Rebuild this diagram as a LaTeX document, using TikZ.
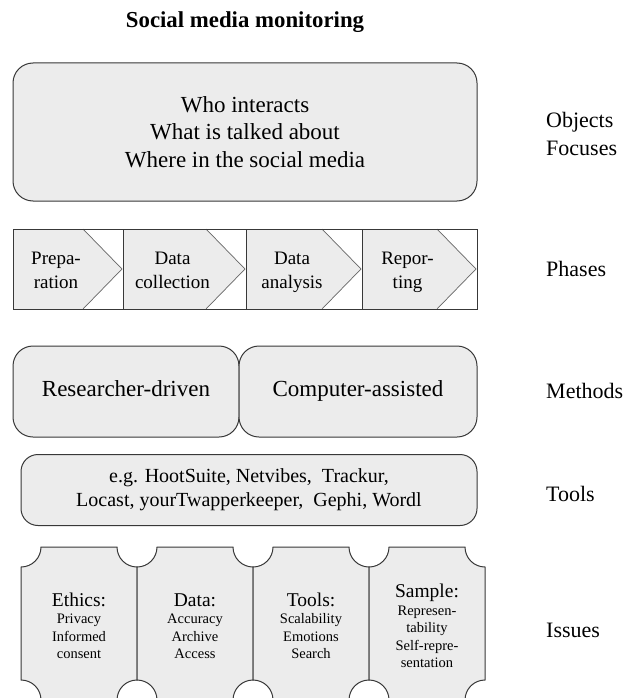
\documentclass[tikz,border=0pt]{standalone}
\usepackage{fontspec}
\setmainfont{Liberation Serif}
\usepackage{tikz}
\usetikzlibrary{positioning}
\definecolor{panelfill}{HTML}{ECECEC}
\definecolor{panelline}{HTML}{383838}

\begin{document}
\begin{tikzpicture}[x=1pt, y=-1pt,
  panel/.style={draw=panelline, fill=panelfill, line width=1pt, rounded corners=20pt},
  lbl/.style={anchor=west, inner sep=0pt, align=left, font=\fontsize{22}{28}\selectfont},
  phasetext/.style={anchor=north, inner sep=0pt, align=center, font=\fontsize{19}{24}\selectfont},
  issuetext/.style={inner sep=0pt, align=center, font=\fontsize{14.5}{17.5}\selectfont}]

\clip (0,0) rectangle (630,698);
\fill[white] (0,0) rectangle (630,698);

\node[inner sep=0pt, font=\bfseries\fontsize{22.8}{26}\selectfont] (title) at (245,22) {Social media monitoring};

% objects and focuses
\node[panel, minimum width=464, minimum height=138, align=center,
      font=\fontsize{23}{27.5}\selectfont] (focus) at (245,132)
{Who interacts\\What is talked about\\Where in the social media};

% phases
\foreach \a/\b/\t [count=\i] in {13/123/{Prepa-\\ration}, 123/246/{Data\\collection},
  246/362/{Data\\analysis}, 362/477/{Repor-\\ting}}
{
\fill[panelfill] (\a,229) -- (\b-40,229) -- (\b-1,269) -- (\b-40,309) -- (\a,309) -- cycle;
\draw[black!60, line width=0.7pt] (\b-40,229) -- (\b-1,269) -- (\b-40,309);
\node[phasetext] (phase\i) at ({(\a+\b)/2-12},252) {\t};
}
\draw[panelline, line width=1pt] (13,229) rectangle (477,309);
\foreach \x in {123,246,362}
\draw[panelline, line width=1pt] (\x,229) -- (\x,309);

% methods
\node[panel, minimum width=226, minimum height=91, text height=15, text depth=5,
      font=\fontsize{23}{27}\selectfont] (researcher) at (126,391.5) {Researcher-driven};
\node[panel, minimum width=238, minimum height=91, text height=15, text depth=5,
      font=\fontsize{23}{27}\selectfont] (computer) at (358,391.5) {Computer-assisted};

% tools
\node[panel, rounded corners=17pt, minimum width=456, minimum height=71, align=center,
      font=\fontsize{20}{24}\selectfont] (toolbox) at (249,490)
{e.g. HootSuite, Netvibes,\ \ Trackur,\\Locast, yourTwapperkeeper,\ \ Gephi, Wordl};

% issues
\foreach \a/\h/\t [count=\i] in {21/Ethics:/{Privacy\\Informed\\consent},
  137/Data:/{Accuracy\\Archive\\Access}, 253/Tools:/{Scalability\\Emotions\\Search},
  369/Sample:/{Represen-\\tability\\Self-repre-\\sentation}}
{
\draw[draw=panelline, fill=panelfill, line width=1pt]
(\a+20,547) -- (\a+96,547) arc[start angle=180, end angle=90, radius=20]
-- (\a+116,680) arc[start angle=270, end angle=180, radius=20]
-- (\a+20,700) arc[start angle=0, end angle=-90, radius=20]
-- (\a,567) arc[start angle=90, end angle=0, radius=20] -- cycle;
\node[issuetext] (issue\i) at (\a+58,626) {{\fontsize{19.5}{17.5}\selectfont \h}\\\t};
}

\node[lbl] (objects) at (546,134) {Objects\\Focuses};
\node[lbl] (phases) at (546,269) {Phases};
\node[lbl] (methods) at (546,391) {Methods};
\node[lbl] (tools) at (546,494) {Tools};
\node[lbl] (issues) at (546,630) {Issues};

\end{tikzpicture}
\end{document}
